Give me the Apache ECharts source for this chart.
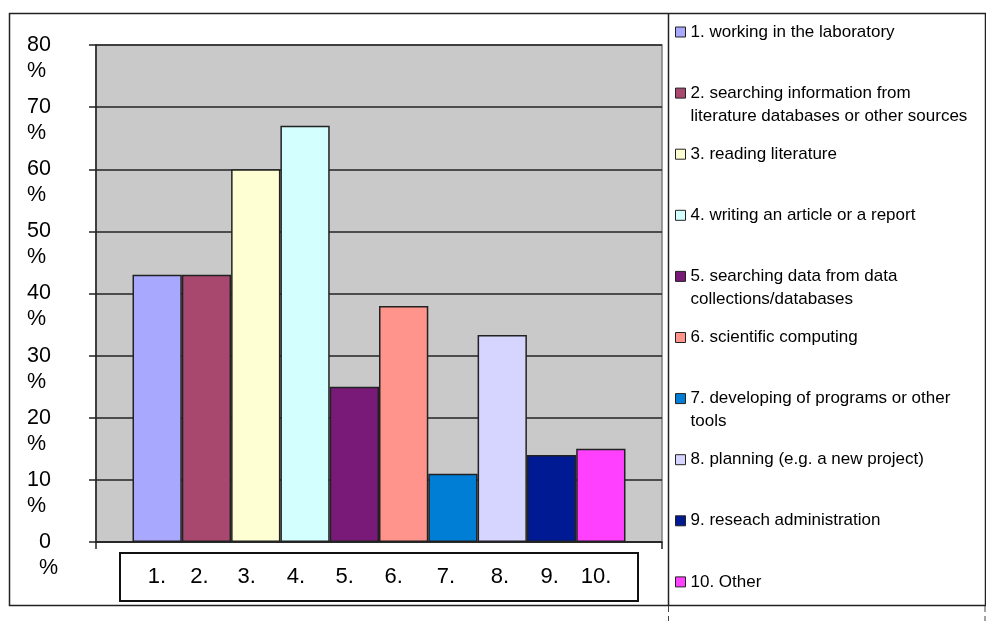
<!DOCTYPE html>
<html>
<head>
<meta charset="utf-8">
<script src="https://cdn.jsdelivr.net/npm/echarts@6/dist/echarts.min.js"></script>
<style>
  html, body { margin: 0; padding: 0; background: #fff; }
  #chart { width: 986px; height: 621px; }
</style>
</head>
<body>
<div id="chart"></div>
<script>
// activities (legend names, wrapped as in the original)
const activities = [
  '1. working in the laboratory',
  '2. searching information from\nliterature databases or other sources',
  '3. reading literature',
  '4. writing an article or a report',
  '5. searching data from data\ncollections/databases',
  '6. scientific computing',
  '7. developing of programs or other\ntools',
  '8. planning (e.g. a new project)',
  '9. reseach administration',
  '10. Other'
]
// share of respondents, percent
const shares = [43, 43, 60, 67, 25, 38, 11, 33.3, 14, 15]
const itemNumbers = ['1.', '2.', '3.', '4.', '5.', '6.', '7.', '8.', '9.', '10.']
const yTicks = [0, 10, 20, 30, 40, 50, 60, 70, 80]

const colors = ['#A8A8FF', '#A8486F', '#FFFFD4', '#D4FFFF', '#7A1A78',
  '#FF948C', '#007ED6', '#D5D5FF', '#001A94', '#FF40FF']

// widths of the number slots inside the category box
const slotWidths = [40, 45, 49.5, 49, 48.5, 49.5, 55, 53, 46.5, 46]

const rich = {}
slotWidths.forEach((w, i) => {
  rich['s' + i] = { width: w, align: 'center', fontSize: 22, lineHeight: 26, color: '#000', fontFamily: 'Liberation Sans' }
})

const series = activities.map((name, i) => ({
  name: name,
  type: 'bar',
  data: [shares[i]],
  barGap: '0%',
  barCategoryGap: '12.9%',
  itemStyle: { color: colors[i], borderColor: '#222', borderWidth: 1.5 }
}))

const legendRowH = 23
const legends = activities.map((name, i) => {
  const lines = name.includes('\n') ? 3 : 1
  const center = 32 + i * 61.1
  return {
    data: [name],
    orient: 'vertical',
    left: 675,
    top: center - lines * legendRowH / 2,
    padding: 0,
    icon: 'rect',
    itemWidth: 10,
    itemHeight: 10,
    itemGap: 0,
    selectedMode: false,
    itemStyle: { borderColor: '#222', borderWidth: 1 },
    formatter: (n) => (n.includes('\n') ? ' \n' + n : n),
    textStyle: { fontSize: 17, lineHeight: legendRowH, color: '#000', fontFamily: 'Liberation Sans' }
  }
})

const yBase = {
  type: 'value',
  min: yTicks[0],
  max: yTicks[yTicks.length - 1],
  interval: 10
}
const yLabelFont = { fontSize: 21.5, color: '#000', fontFamily: 'Liberation Sans' }

const option = {
  backgroundColor: '#fff',
  animation: false,
  legend: legends,
  grid: {
    left: 96, right: 324, top: 45, bottom: 79,
    show: true,
    backgroundColor: '#C9C9C9',
    borderColor: '#808080',
    borderWidth: 1.5
  },
  xAxis: {
    type: 'category',
    data: [itemNumbers.join(' ')],
    axisLine: { lineStyle: { color: '#222', width: 1.5 } },
    axisTick: { show: true, length: 7, lineStyle: { color: '#222', width: 1.5 } },
    axisLabel: {
      margin: 12,
      formatter: () => itemNumbers.map((t, i) => '{s' + i + '|' + t + '}').join(''),
      rich: rich,
      borderColor: '#111',
      borderWidth: 2,
      padding: [10, 18, 10, 16],
      backgroundColor: '#fff'
    }
  },
  yAxis: [
    Object.assign({}, yBase, {
      position: 'left',
      axisLine: { show: true, lineStyle: { color: '#222', width: 1.5 } },
      axisTick: { show: true, length: 7, lineStyle: { color: '#222', width: 1.5 } },
      splitLine: { lineStyle: { color: '#222', width: 1.5 } },
      axisLabel: Object.assign({
        margin: 69,
        align: 'left',
        showMinLabel: true,
        showMaxLabel: true,
        formatter: (v) => (v === 0 ? '  0' : String(v))
      }, yLabelFont)
    }),
    // second line of every tick label: the percent sign
    Object.assign({}, yBase, {
      position: 'left',
      offset: 0,
      axisLine: { show: false },
      axisTick: { show: false },
      splitLine: { show: false },
      axisLabel: Object.assign({
        margin: 69,
        align: 'left',
        verticalAlign: 'top',
        lineHeight: 26,
        padding: [13, 0, 0, 0],
        showMinLabel: true,
        showMaxLabel: true,
        formatter: (v) => (v === 0 ? '  %' : '%')
      }, yLabelFont)
    })
  ],
  graphic: [
    { type: 'rect', shape: { x: 9.5, y: 13.5, width: 976, height: 592 }, style: { fill: null, stroke: '#222', lineWidth: 1.5 }, silent: true },
    { type: 'line', shape: { x1: 668.5, y1: 13, x2: 668.5, y2: 606 }, style: { stroke: '#222', lineWidth: 1.5 }, silent: true },
    { type: 'line', shape: { x1: 668.5, y1: 606, x2: 668.5, y2: 621 }, style: { stroke: '#444', lineWidth: 1, lineDash: [6, 4] }, silent: true },
    { type: 'line', shape: { x1: 985, y1: 606, x2: 985, y2: 621 }, style: { stroke: '#444', lineWidth: 1, lineDash: [6, 4] }, silent: true }
  ],
  series: series
}

const myChart = echarts.init(document.getElementById('chart'))
myChart.setOption(option)
window.addEventListener('resize', () => {
  myChart.resize()
})
</script>
</body>
</html>
